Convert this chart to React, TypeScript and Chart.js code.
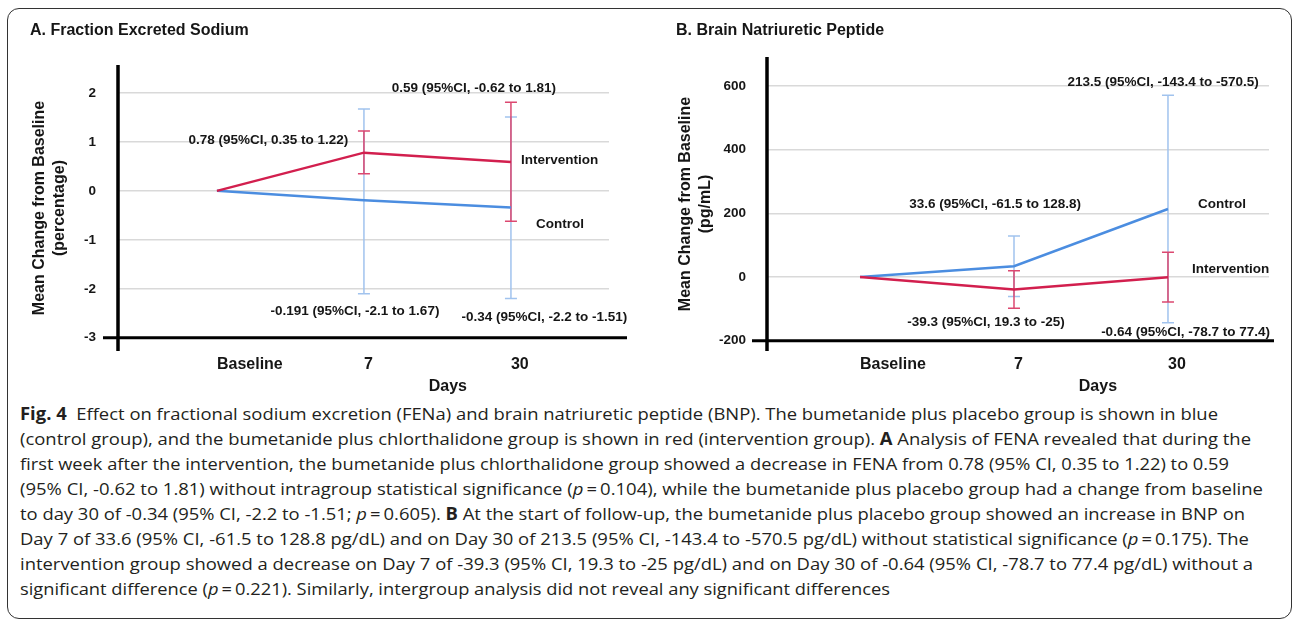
import React, { useEffect, useRef } from 'react';
import { Chart, registerables } from 'chart.js';

Chart.register(...registerables);

// ---------- data ----------
const categories = ['Baseline', '7', '30'];

const fenaIntervention = [0, 0.78, 0.59];
const fenaInterventionLow = [null, 0.35, -0.62];
const fenaInterventionHigh = [null, 1.22, 1.81];
const fenaControl = [0, -0.191, -0.34];
const fenaControlLow = [null, -2.1, -2.2];
const fenaControlHigh = [null, 1.67, 1.51];
const fenaTicks = [-3, -2, -1, 0, 1, 2];

const bnpIntervention = [0, -39.3, -0.64];
const bnpInterventionLow = [null, -97.9, -78.7];
const bnpInterventionHigh = [null, 19.3, 77.4];
const bnpControl = [0, 33.6, 213.5];
const bnpControlLow = [null, -61.5, -143.4];
const bnpControlHigh = [null, 128.8, 570.5];
const bnpTicks = [-200, 0, 200, 400, 600];

const fenaNoteTexts = [
  '0.78 (95%CI, 0.35 to 1.22)',
  '0.59 (95%CI, -0.62 to 1.81)',
  'Intervention',
  'Control',
  '-0.191 (95%CI, -2.1 to 1.67)',
  '-0.34 (95%CI, -2.2 to -1.51)',
];
const bnpNoteTexts = [
  '213.5 (95%CI, -143.4 to -570.5)',
  'Control',
  '33.6 (95%CI, -61.5 to 128.8)',
  'Intervention',
  '-39.3 (95%CI, 19.3 to -25)',
  '-0.64 (95%CI, -78.7 to 77.4)',
];

// ---------- layout (anchors in axis units) ----------
const fenaNoteAnchors = [
  { x: 0.35, y: 1.04, align: 'center' },
  { x: 1.748, y: 2.1, align: 'center' },
  { x: 2.068, y: 0.62, align: 'left' },
  { x: 2.17, y: -0.676, align: 'left' },
  { x: 0.939, y: -2.45, align: 'center' },
  { x: 2.228, y: -2.59, align: 'center' },
];
const bnpNoteAnchors = [
  { x: 1.968, y: 612, align: 'center' },
  { x: 2.195, y: 229, align: 'left' },
  { x: 0.877, y: 229, align: 'center' },
  { x: 2.156, y: 25, align: 'left' },
  { x: 0.818, y: -141, align: 'center' },
  { x: 2.114, y: -173, align: 'center' },
];

const FONT = '"Liberation Sans", Arial, Helvetica, sans-serif';
const TEXT = '#161616';
const RED = '#d21f4e';
const RED_BAR = '#dc4870';
const BLUE = '#4b8de0';
const BLUE_BAR = '#a1c3ee';
const GRID = '#d9d9d9';

type Series = { values: number[]; lo: (number | null)[]; hi: (number | null)[]; color: string; bar: string };
type Spec = {
  title: string;
  yTitle: string[];
  yTicks: number[];
  yMin: number;
  yMax: number;
  xMin: number;
  xMax: number;
  padTop: number;
  padRight: number;
  yWidth: number;
  tickPad: number;
  axisExtendRight: number;
  series: Series[];
  notes: string[];
  anchors: { x: number; y: number; align: string }[];
  daysAnchor: { x: number; y: number };
};

const specA: Spec = {
  title: 'A. Fraction Excreted Sodium',
  yTitle: ['Mean Change from Baseline', '(percentage)'],
  yTicks: fenaTicks,
  yMin: -3.27,
  yMax: 2.57,
  xMin: -0.673,
  xMax: 2.667,
  padTop: 65,
  padRight: 37,
  yWidth: 118,
  tickPad: 22,
  axisExtendRight: 18,
  series: [
    { values: fenaIntervention, lo: fenaInterventionLow, hi: fenaInterventionHigh, color: RED, bar: RED_BAR },
    { values: fenaControl, lo: fenaControlLow, hi: fenaControlHigh, color: BLUE, bar: BLUE_BAR },
  ],
  notes: fenaNoteTexts,
  anchors: fenaNoteAnchors,
  daysAnchor: { x: 1.571, y: -4.0 },
};

const specB: Spec = {
  title: 'B. Brain Natriuretic Peptide',
  yTitle: ['Mean Change from Baseline', '(pg/mL)'],
  yTicks: bnpTicks,
  yMin: -232.5,
  yMax: 691,
  xMin: -0.604,
  xMax: 2.656,
  padTop: 57,
  padRight: 23,
  yWidth: 121,
  tickPad: 21,
  axisExtendRight: 5,
  series: [
    { values: bnpIntervention, lo: bnpInterventionLow, hi: bnpInterventionHigh, color: RED, bar: RED_BAR },
    { values: bnpControl, lo: bnpControlLow, hi: bnpControlHigh, color: BLUE, bar: BLUE_BAR },
  ],
  notes: bnpNoteTexts,
  anchors: bnpNoteAnchors,
  daysAnchor: { x: 1.545, y: -345 },
};

function overlayPlugin(spec: Spec) {
  return {
    id: 'overlay',
    beforeDatasetsDraw(chart: any) {
      const { ctx } = chart;
      const x = chart.scales.x;
      const y = chart.scales.y;
      ctx.save();
      [...spec.series].reverse().forEach((s) => {
        ctx.strokeStyle = s.bar;
        ctx.lineWidth = 1.5;
        s.lo.forEach((lo, i) => {
          const hi = s.hi[i];
          if (lo == null || hi == null) return;
          const px = x.getPixelForValue(i);
          const p1 = y.getPixelForValue(lo);
          const p2 = y.getPixelForValue(hi);
          ctx.beginPath();
          ctx.moveTo(px, p1);
          ctx.lineTo(px, p2);
          ctx.moveTo(px - 6, p1);
          ctx.lineTo(px + 6, p1);
          ctx.moveTo(px - 6, p2);
          ctx.lineTo(px + 6, p2);
          ctx.stroke();
        });
      });
      ctx.restore();
    },
    afterDraw(chart: any) {
      const { ctx, chartArea } = chart;
      const x = chart.scales.x;
      const y = chart.scales.y;
      ctx.save();
      // axis lines
      ctx.strokeStyle = '#000';
      ctx.lineCap = 'butt';
      ctx.lineWidth = 3.5;
      ctx.beginPath();
      ctx.moveTo(chartArea.left, chartArea.top);
      ctx.lineTo(chartArea.left, chartArea.bottom);
      ctx.stroke();
      const axisY = y.getPixelForValue(spec.yTicks[0]);
      ctx.lineWidth = 3;
      ctx.beginPath();
      ctx.moveTo(chartArea.left - 15, axisY);
      ctx.lineTo(chartArea.right + spec.axisExtendRight, axisY);
      ctx.stroke();

      ctx.fillStyle = TEXT;
      // title
      ctx.font = `bold 16px ${FONT}`;
      ctx.textAlign = 'left';
      ctx.textBaseline = 'middle';
      ctx.fillText(spec.title, 30, 31);

      // y title
      const midY = (chartArea.top + chartArea.bottom) / 2;
      ctx.font = `bold 16px ${FONT}`;
      ctx.textAlign = 'center';
      spec.yTitle.forEach((line, k) => {
        ctx.save();
        ctx.translate(40 + k * 20, midY);
        ctx.rotate(-Math.PI / 2);
        ctx.fillText(line, 0, 0);
        ctx.restore();
      });

      // notes
      ctx.font = `bold 13.5px ${FONT}`;
      spec.notes.forEach((t, k) => {
        const a = spec.anchors[k];
        ctx.textAlign = a.align as CanvasTextAlign;
        ctx.fillText(t, x.getPixelForValue(a.x), y.getPixelForValue(a.y));
      });

      // x title
      ctx.font = `bold 16px ${FONT}`;
      ctx.textAlign = 'center';
      ctx.fillText('Days', x.getPixelForValue(spec.daysAnchor.x), y.getPixelForValue(spec.daysAnchor.y));
      ctx.restore();
    },
  };
}

function buildChart(canvas: HTMLCanvasElement, spec: Spec) {
  return new Chart(canvas, {
    type: 'line',
    data: {
      datasets: spec.series.map((s) => ({
        data: s.values.map((v, i) => ({ x: i, y: v })),
        borderColor: s.color,
        backgroundColor: s.color,
        borderWidth: 2.5,
        pointRadius: 0,
        tension: 0,
        fill: false,
      })),
    },
    options: {
      responsive: false,
      animation: false,
      events: [],
      layout: { padding: { top: spec.padTop, right: spec.padRight, left: 0, bottom: 0 } },
      plugins: { legend: { display: false }, tooltip: { enabled: false }, title: { display: false } },
      scales: {
        x: {
          type: 'linear',
          min: spec.xMin,
          max: spec.xMax,
          grid: { display: false, drawTicks: false },
          border: { display: false },
          afterBuildTicks: (s: any) => {
            s.ticks = categories.map((_, i) => ({ value: i }));
          },
          afterFit: (s: any) => {
            s.height = 49;
          },
          ticks: {
            autoSkip: false,
            maxRotation: 0,
            align: 'start',
            padding: 4,
            color: TEXT,
            font: { family: FONT, size: 16, weight: 'bold' },
            callback: (v: any) => categories[Math.round(Number(v))],
          },
        },
        y: {
          type: 'linear',
          min: spec.yMin,
          max: spec.yMax,
          grid: { color: GRID, lineWidth: 1.5, drawTicks: false },
          border: { display: false },
          afterBuildTicks: (s: any) => {
            s.ticks = spec.yTicks.map((v) => ({ value: v }));
          },
          afterFit: (s: any) => {
            s.width = spec.yWidth;
          },
          ticks: {
            padding: spec.tickPad,
            color: TEXT,
            font: { family: FONT, size: 13.5, weight: 'bold' },
            callback: (v: any) => String(v),
          },
        },
      },
    } as any,
    plugins: [overlayPlugin(spec)],
  });
}

function ChartPanel({ spec, left }: { spec: Spec; left: number }) {
  const ref = useRef<HTMLCanvasElement>(null);
  useEffect(() => {
    if (!ref.current) return;
    const chart = buildChart(ref.current, spec);
    return () => chart.destroy();
  }, [spec]);
  return (
    <canvas
      ref={ref}
      width={646}
      height={400}
      style={{ position: 'absolute', left, top: 0, width: 646, height: 400, display: 'block' }}
    />
  );
}

type Seg = string | { b?: string; i?: string };
const captionLines: Seg[][] = [
  [{ b: 'Fig. 4' }, '  Effect on fractional sodium excretion (FENa) and brain natriuretic peptide (BNP). The bumetanide plus placebo group is shown in blue'],
  ['(control group), and the bumetanide plus chlorthalidone group is shown in red (intervention group). ', { b: 'A' }, ' Analysis of FENA revealed that during the'],
  ['first week after the intervention, the bumetanide plus chlorthalidone group showed a decrease in FENA from 0.78 (95% CI, 0.35 to 1.22) to 0.59'],
  ['(95% CI, -0.62 to 1.81) without intragroup statistical significance (', { i: 'p' }, '\u2009=\u20090.104), while the bumetanide plus placebo group had a change from baseline'],
  ['to day 30 of -0.34 (95% CI, -2.2 to -1.51; ', { i: 'p' }, '\u2009=\u20090.605). ', { b: 'B' }, ' At the start of follow-up, the bumetanide plus placebo group showed an increase in BNP on'],
  ['Day 7 of 33.6 (95% CI, -61.5 to 128.8 pg/dL) and on Day 30 of 213.5 (95% CI, -143.4 to -570.5 pg/dL) without statistical significance (', { i: 'p' }, '\u2009=\u20090.175). The'],
  ['intervention group showed a decrease on Day 7 of -39.3 (95% CI, 19.3 to -25 pg/dL) and on Day 30 of -0.64 (95% CI, -78.7 to 77.4 pg/dL) without a'],
  ['significant difference (', { i: 'p' }, '\u2009=\u20090.221). Similarly, intergroup analysis did not reveal any significant differences'],
];
const captionLineEnds = [1218, 1251, 1229, 1263, 1245, 1249, 1253, 890];

function Caption() {
  const startX = 20;
  return (
    <svg
      width={1292}
      height={222}
      style={{ position: 'absolute', left: 0, top: 400, display: 'block' }}
    >
      {captionLines.map((segs, k) => (
        <text
          key={k}
          x={startX}
          y={20 + k * 25}
          textLength={captionLineEnds[k] - startX}
          lengthAdjust="spacingAndGlyphs"
          style={{ whiteSpace: 'pre', fontFamily: '"Open Sans", "Noto Sans", sans-serif', fontSize: 17, fill: '#231f20' }}
        >
          {segs.map((s, j) =>
            typeof s === 'string' ? (
              <tspan key={j}>{s}</tspan>
            ) : s.b ? (
              <tspan key={j} fontWeight="bold">{s.b}</tspan>
            ) : (
              <tspan key={j} fontStyle="italic">{s.i}</tspan>
            )
          )}
        </text>
      ))}
    </svg>
  );
}

export default function App() {
  return (
    <div
      style={{
        position: 'absolute',
        left: 0,
        top: 0,
        width: 1292,
        height: 622,
        background: '#fff',
        overflow: 'hidden',
      }}
    >
      <div
        style={{
          position: 'absolute',
          left: 7,
          top: 8,
          width: 1283,
          height: 609,
          border: '1px solid #333',
          borderRadius: 12,
        }}
      />
      <ChartPanel spec={specA} left={0} />
      <ChartPanel spec={specB} left={646} />
      <Caption />
    </div>
  );
}
